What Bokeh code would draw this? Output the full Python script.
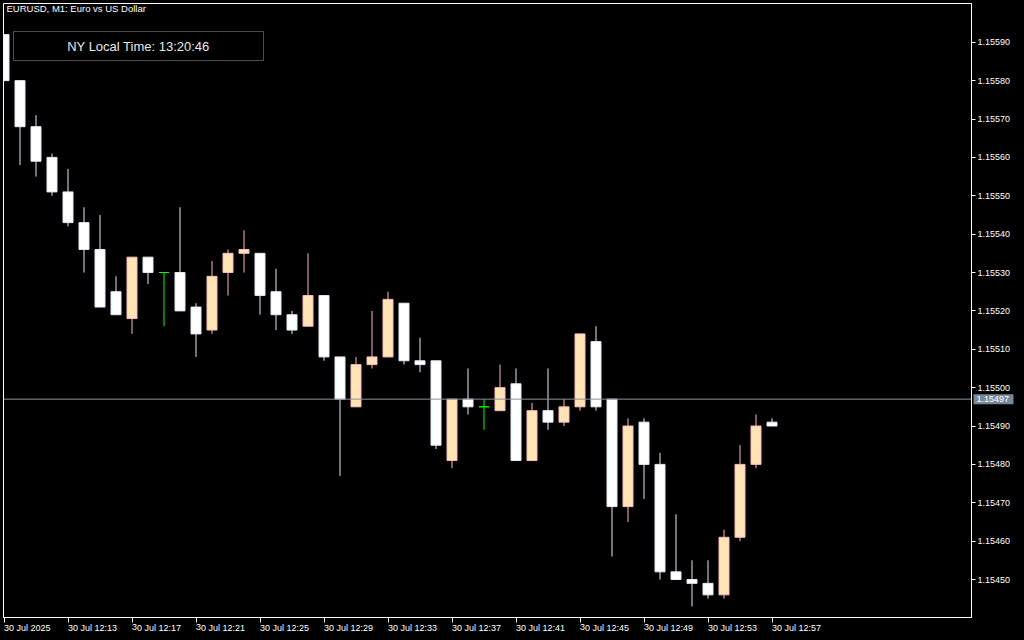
from bokeh.plotting import figure
from bokeh.models import (ColumnDataSource, FixedTicker, Range1d, Span, Label,
                          BoxAnnotation, PrintfTickFormatter, GlobalInlineStyleSheet)
from bokeh.core.properties import value
from bokeh.embed import file_html
from bokeh.resources import INLINE

# ---- data (EURUSD M1, 30 Jul 2025, 12:09 .. 12:57) ----
times = ["12:%02d" % m for m in range(9, 58)]
opens = [1.15592, 1.15580, 1.15568, 1.15560, 1.15551, 1.15543, 1.15536, 1.15525, 1.15518, 1.15534,
         1.15530, 1.15530, 1.15521, 1.15515, 1.15530, 1.15535, 1.15535, 1.15525, 1.15519, 1.15516,
         1.15524, 1.15508, 1.15495, 1.15506, 1.15508, 1.15522, 1.15507, 1.15507, 1.15481, 1.15497,
         1.15495, 1.15494, 1.15501, 1.15481, 1.15494, 1.15491, 1.15495, 1.15512, 1.15497, 1.15469,
         1.15491, 1.15480, 1.15452, 1.15450, 1.15449, 1.15446, 1.15461, 1.15480, 1.15491]
highs = [1.15592, 1.15580, 1.15571, 1.15561, 1.15557, 1.15547, 1.15545, 1.15529, 1.15534, 1.15534,
         1.15530, 1.15547, 1.15522, 1.15533, 1.15536, 1.15541, 1.15535, 1.15531, 1.15520, 1.15535,
         1.15524, 1.15508, 1.15508, 1.15520, 1.15525, 1.15522, 1.15513, 1.15507, 1.15497, 1.15505,
         1.15497, 1.15506, 1.15505, 1.15496, 1.15505, 1.15497, 1.15514, 1.15516, 1.15497, 1.15492,
         1.15492, 1.15483, 1.15467, 1.15455, 1.15455, 1.15463, 1.15485, 1.15493, 1.15492]
lows = [1.15580, 1.15558, 1.15555, 1.15550, 1.15542, 1.15530, 1.15521, 1.15519, 1.15514, 1.15527,
        1.15516, 1.15520, 1.15508, 1.15514, 1.15524, 1.15530, 1.15519, 1.15515, 1.15514, 1.15516,
        1.15507, 1.15477, 1.15495, 1.15505, 1.15508, 1.15506, 1.15504, 1.15484, 1.15479, 1.15493,
        1.15489, 1.15494, 1.15481, 1.15481, 1.15489, 1.15490, 1.15494, 1.15494, 1.15456, 1.15465,
        1.15471, 1.15450, 1.15450, 1.15443, 1.15445, 1.15445, 1.15460, 1.15479, 1.15490]
closes = [1.15580, 1.15568, 1.15559, 1.15551, 1.15543, 1.15536, 1.15521, 1.15519, 1.15534, 1.15530,
          1.15530, 1.15520, 1.15514, 1.15529, 1.15535, 1.15536, 1.15524, 1.15519, 1.15515, 1.15524,
          1.15508, 1.15497, 1.15506, 1.15508, 1.15523, 1.15507, 1.15506, 1.15485, 1.15497, 1.15495,
          1.15495, 1.15500, 1.15481, 1.15494, 1.15491, 1.15495, 1.15514, 1.15495, 1.15469, 1.15490,
          1.15480, 1.15452, 1.15450, 1.15449, 1.15446, 1.15461, 1.15480, 1.15490, 1.15490]
bid_price = 1.15497

x_tick_bars = [0, 4, 8, 12, 16, 20, 24, 28, 32, 36, 40, 44, 48]
x_tick_labels = ["30 Jul 2025", "30 Jul 12:13", "30 Jul 12:17", "30 Jul 12:21", "30 Jul 12:25",
                 "30 Jul 12:29", "30 Jul 12:33", "30 Jul 12:37", "30 Jul 12:41", "30 Jul 12:45",
                 "30 Jul 12:49", "30 Jul 12:53", "30 Jul 12:57"]
y_ticks = [1.15450, 1.15460, 1.15470, 1.15480, 1.15490, 1.15500, 1.15510, 1.15520,
           1.15530, 1.15540, 1.15550, 1.15560, 1.15570, 1.15580, 1.15590]

title_text = "EURUSD, M1:  Euro vs US Dollar"
clock_text = "NY Local Time: 13:20:46"

# ---- colours ----
BULL_FILL = "#FFE4B5"
BULL_LINE = "#FFB6C1"
BEAR_FILL = "#FFFFFF"
BEAR_LINE = "#E6E6FA"
DOJI = "#00FF00"
FONT = "Liberation Sans"

def subset(kind):
    d = dict(x=[], o=[], h=[], l=[], c=[])
    for i in range(len(opens)):
        o, c = opens[i], closes[i]
        k = "bull" if c > o else ("bear" if c < o else "doji")
        if k == kind:
            d["x"].append(i); d["o"].append(o); d["h"].append(highs[i])
            d["l"].append(lows[i]); d["c"].append(c)
    return ColumnDataSource(d)

bull = subset("bull")
bear = subset("bear")
doji = subset("doji")

PX = 16.0                    # pixels per bar
X0 = -0.5 / PX               # bar centres on pixel centres, first bar inside the frame
Y0, Y1 = 1.154401, 1.156001  # 616 px tall frame
p = figure(width=1024, height=640,
           x_range=Range1d(X0, X0 + 968 / PX), y_range=Range1d(Y0, Y1),
           output_backend="svg", toolbar_location=None, y_axis_location="right",
           background_fill_color="black", border_fill_color="black",
           outline_line_color="white", outline_line_width=1,
           min_border_left=3, min_border_top=3, min_border_right=53, min_border_bottom=21)
p.stylesheets = [GlobalInlineStyleSheet(css="html, body { margin: 0 !important; padding: 0; background: #000; overflow: hidden; }")]
p.grid.visible = False

# wicks
p.segment(x0="x", y0="h", x1="x", y1="l", source=bull, line_color=BULL_LINE, line_width=1)
p.segment(x0="x", y0="h", x1="x", y1="l", source=bear, line_color=BEAR_LINE, line_width=1)
p.segment(x0="x", y0="h", x1="x", y1="l", source=doji, line_color=DOJI, line_width=1)
# bodies
BW = 10 / PX
p.vbar(x="x", top="c", bottom="o", width=BW, source=bull,
       fill_color=BULL_FILL, line_color=BULL_LINE, line_width=1)
p.vbar(x="x", top="o", bottom="c", width=BW, source=bear,
       fill_color=BEAR_FILL, line_color=BEAR_LINE, line_width=1)
p.vbar(x="x", top="o", bottom="c", width=BW, source=doji,
       fill_color=DOJI, line_color=DOJI, line_width=1)

# bid line
p.add_layout(Span(location=bid_price, dimension="width", line_color="#8C939D", line_width=1))

# axes
xa = p.xaxis[0]
xa.ticker = FixedTicker(ticks=x_tick_bars)
xa.major_label_overrides = {b: t for b, t in zip(x_tick_bars, x_tick_labels)}
xa.major_label_orientation = -0.0001   # tiny negative angle -> labels start at the tick
ya = p.yaxis[0]
ya.ticker = FixedTicker(ticks=y_ticks)
ya.formatter = PrintfTickFormatter(format="%.5f")
for ax in (xa, ya):
    ax.axis_line_color = "white"
    ax.major_tick_line_color = "white"
    ax.minor_tick_line_color = None
    ax.major_tick_in = 0
    ax.major_label_text_color = "white"
    ax.major_label_text_font = FONT
    ax.major_label_text_font_size = "9px"
xa.major_tick_out = 5
xa.major_label_standoff = 5
ya.major_tick_out = 4
ya.major_label_standoff = 2

# bid price tag on the price scale (drawn above the frame clip)
ppx = (Y1 - Y0) / 616.0      # price per pixel
tag_l = X0 + (973 - 3) / PX
tag_r = X0 + (1013 - 3) / PX
p.quad(left=[tag_l], right=[tag_r], top=[bid_price + 5 * ppx], bottom=[bid_price - 5 * ppx],
       fill_color="#778899", line_color=None, level="overlay")
p.text(x=[tag_l + 3 / PX], y=[bid_price], text=["%.5f" % bid_price],
       text_font=value(FONT), text_font_size="9px", text_color="white",
       text_baseline="middle", text_align="left", level="overlay")

# chart caption
p.add_layout(Label(x=3, x_units="screen", y=609, y_units="screen", text=title_text,
                   text_font=FONT, text_font_size="9.5px", text_color="white",
                   text_baseline="middle", text_align="left"))

# NY local time box
p.add_layout(BoxAnnotation(left=10, right=260, top=586, bottom=557,
                           left_units="screen", right_units="screen",
                           top_units="screen", bottom_units="screen",
                           fill_color="black", fill_alpha=1.0, line_color="white", line_width=1))
p.add_layout(Label(x=135, x_units="screen", y=571, y_units="screen", text=clock_text,
                   text_font=FONT, text_font_size="13px", text_color="#E8E8E8",
                   text_baseline="middle", text_align="center"))

open("out.html", "w").write(file_html(p, INLINE))
